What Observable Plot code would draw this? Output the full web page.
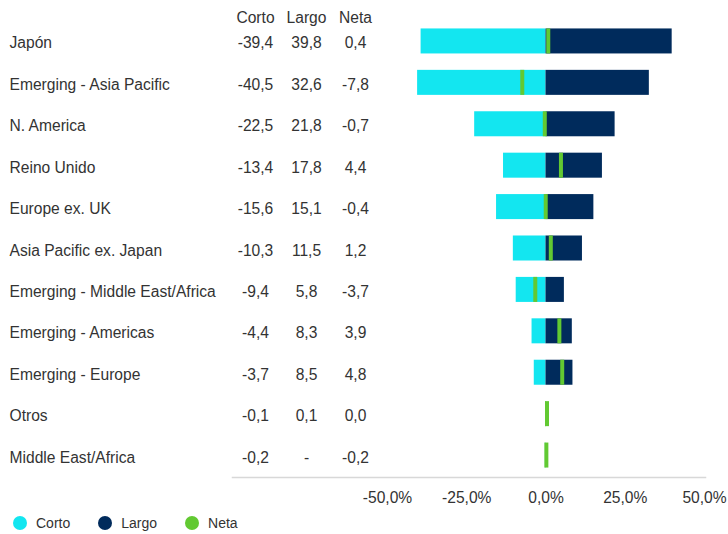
<!DOCTYPE html>
<html>
<head>
<meta charset="utf-8">
<script src="https://cdn.jsdelivr.net/npm/d3@7"></script>
<script src="https://cdn.jsdelivr.net/npm/@observablehq/plot@0.6"></script>
<style>
  body { margin: 0; background: #fff; font-family: "Liberation Sans", Arial, sans-serif; }
  #legend { display: flex; align-items: center; height: 26px; padding-left: 13px; font-size: 14px; color: #333; }
  .item { display: flex; align-items: center; margin-right: 28px; }
  .dot { width: 14px; height: 14px; border-radius: 50%; margin-right: 9px; }
</style>
</head>
<body>
<div id="chart"></div>
<div id="legend"></div>
<script>
const categories = ["Japón","Emerging - Asia Pacific","N. America","Reino Unido","Europe ex. UK","Asia Pacific ex. Japan","Emerging - Middle East/Africa","Emerging - Americas","Emerging - Europe","Otros","Middle East/Africa"];
const corto = [-39.4,-40.5,-22.5,-13.4,-15.6,-10.3,-9.4,-4.4,-3.7,-0.1,-0.2];
const largo = [39.8,32.6,21.8,17.8,15.1,11.5,5.8,8.3,8.5,0.1,null];
const neta = [0.4,-7.8,-0.7,4.4,-0.4,1.2,-3.7,3.9,4.8,0.0,-0.2];
const columns = ["Corto","Largo","Neta"];
const xTicks = [-50,-25,0,25,50];

const colors = {Corto: "#13E6F0", Largo: "#002B5C", Neta: "#62C932"};
const fmt = v => (v == null ? "-" : v.toFixed(1).replace(".", ","));
const data = categories.map((c, i) => ({cat: c, corto: corto[i], largo: largo[i], neta: neta[i]}));

const textColor = "#333";
const fontSize = 15.6;
const colOffset = {Corto: 23, Largo: 74, Neta: 123};

const chart = Plot.plot({
  width: 728,
  height: 510,
  marginLeft: 232,
  marginRight: 23,
  marginTop: 19,
  marginBottom: 33,
  style: {fontFamily: '"Liberation Sans", Arial, sans-serif', fontSize: fontSize + "px", color: textColor, background: "#fff"},
  x: {domain: [-50, 50], range: [387, 704]},
  y: {domain: categories, padding: 0.396, paddingOuter: 0.228, round: false, axis: null},
  marks: [
    Plot.frame({anchor: "bottom", stroke: "#d8d8d8", strokeWidth: 1.5}),
    Plot.axisX({ticks: xTicks, tickSize: 0, tickPadding: 14, fontSize: fontSize, fill: textColor, tickFormat: d => fmt(d) + "%", label: null}),
    Plot.barX(data, {y: "cat", x: "corto", fill: colors.Corto}),
    Plot.barX(data.filter(d => d.largo != null), {y: "cat", x: "largo", fill: colors.Largo}),
    Plot.tickX(data, {y: "cat", x: "neta", stroke: colors.Neta, strokeWidth: 4, dx: 1}),
    Plot.text(data, {y: "cat", text: "cat", frameAnchor: "left", textAnchor: "start", dx: -223, dy: 2, fill: textColor, fontSize: fontSize}),
    Plot.text(data, {y: "cat", text: d => fmt(d.corto), frameAnchor: "left", textAnchor: "middle", dx: colOffset.Corto, dy: 2, fill: textColor, fontSize: fontSize}),
    Plot.text(data, {y: "cat", text: d => fmt(d.largo), frameAnchor: "left", textAnchor: "middle", dx: colOffset.Largo, dy: 2, fill: textColor, fontSize: fontSize}),
    Plot.text(data, {y: "cat", text: d => fmt(d.neta), frameAnchor: "left", textAnchor: "middle", dx: colOffset.Neta, dy: 2, fill: textColor, fontSize: fontSize}),
    ...columns.map(c => Plot.text([c], {text: d => d, frameAnchor: "top-left", lineAnchor: "middle", textAnchor: "middle", dx: colOffset[c], dy: -2, fill: textColor, fontSize: fontSize}))
  ]
});
document.getElementById("chart").appendChild(chart);

const legend = document.getElementById("legend");
columns.forEach(c => {
  const item = document.createElement("div");
  item.className = "item";
  const dot = document.createElement("span");
  dot.className = "dot";
  dot.style.background = colors[c];
  const label = document.createElement("span");
  label.textContent = c;
  item.appendChild(dot);
  item.appendChild(label);
  legend.appendChild(item);
});
</script>
</body>
</html>
